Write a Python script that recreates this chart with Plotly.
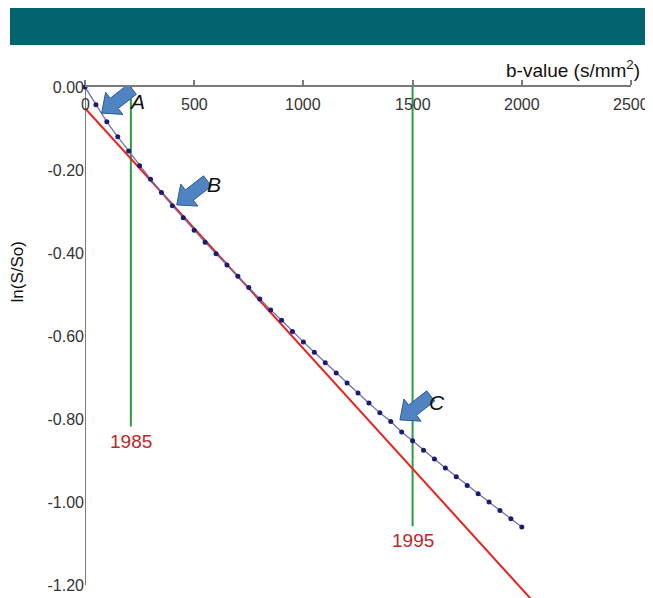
import math
import plotly.graph_objects as go

# ---- data ----
B_VALUES = [0, 50, 100, 150, 200, 250, 300, 350, 400, 450, 500, 550, 600, 650, 700,
            750, 800, 850, 900, 950, 1000, 1050, 1100, 1150, 1200, 1250, 1300, 1350,
            1400, 1450, 1500, 1550, 1600, 1650, 1700, 1750, 1800, 1850, 1900, 1950, 2000]
LN_SIGNAL = [0.000, -0.043, -0.084, -0.120, -0.154, -0.190, -0.222, -0.254, -0.286,
             -0.315, -0.345, -0.374, -0.402, -0.429, -0.456, -0.483, -0.511, -0.537,
             -0.562, -0.589, -0.614, -0.639, -0.664, -0.689, -0.713, -0.737, -0.761,
             -0.785, -0.806, -0.831, -0.852, -0.875, -0.896, -0.918, -0.939, -0.960,
             -0.980, -1.000, -1.020, -1.040, -1.060]
FIT_B = [0, 2100]
FIT_Y = [-0.051, -1.267]
YEAR_B = [210, 1500]
YEAR_END = [-0.818, -1.058]
YEAR_LABELS = ["1985", "1995"]
ARROW_LABELS = ["A", "B", "C"]
ARROW_TIP_B = [76, 420, 1442]
ARROW_TIP_Y = [-0.063, -0.284, -0.802]
LABEL_B = [238, 591, 1612]
LABEL_Y = [-0.036, -0.234, -0.761]
X_TICKS = [0, 500, 1000, 1500, 2000, 2500]
X_TICK_TEXT = ["0", "500", "1000", "1500", "2000", "2500"]
Y_TICKS = [0.0, -0.2, -0.4, -0.6, -0.8, -1.0, -1.2]
Y_TICK_TEXT = ["0.00", "-0.20", "-0.40", "-0.60", "-0.80", "-1.00", "-1.20"]

FONT = "Liberation Sans, Arial, sans-serif"
RED = "#e8231f"
GREEN = "#2f9a3e"
DARKRED = "#c0272d"
AXIS = "#7a7a7a"

fig = go.Figure()

# green year markers
for b, yend in zip(YEAR_B, YEAR_END):
    fig.add_trace(go.Scatter(x=[b, b], y=[0, yend], mode="lines",
                             line=dict(color=GREEN, width=2), hoverinfo="skip",
                             showlegend=False))

# red mono-exponential fit
fig.add_trace(go.Scatter(x=FIT_B, y=FIT_Y, mode="lines",
                         line=dict(color=RED, width=2), showlegend=False))

# measured signal
fig.add_trace(go.Scatter(x=B_VALUES, y=LN_SIGNAL, mode="lines+markers",
                         line=dict(color="#6e6eb8", width=1.3),
                         marker=dict(color="#1c1c6e", size=5),
                         cliponaxis=False, showlegend=False))

annotations = []
for b, yend, lab in zip(YEAR_B, YEAR_END, YEAR_LABELS):
    annotations.append(dict(x=b, y=yend, xref="x", yref="y", text=lab,
                            showarrow=False, yanchor="top", yshift=-2,
                            font=dict(family=FONT, size=19, color=DARKRED)))

for tv, tt in zip(X_TICKS, X_TICK_TEXT):
    annotations.append(dict(x=tv, y=1, xref="x", yref="paper", text=tt,
                            showarrow=False, yanchor="top", yshift=-7,
                            font=dict(family=FONT, size=16, color="#333")))

for lb, ly, lab in zip(LABEL_B, LABEL_Y, ARROW_LABELS):
    annotations.append(dict(x=lb, y=ly, xref="x", yref="y", text="<i>" + lab + "</i>",
                            showarrow=False,
                            font=dict(family=FONT, size=21, color="#111")))

# axis titles
annotations.append(dict(x=1.02, y=1.0, xref="paper", yref="paper", xanchor="right",
                        yanchor="bottom", yshift=4,
                        text="b-value (s/mm<sup>2</sup>)", showarrow=False,
                        font=dict(family=FONT, size=19, color="#111")))
annotations.append(dict(x=-0.1245, y=0.637, xref="paper", yref="paper",
                        xanchor="center", yanchor="middle",
                        text="ln(S/So)", textangle=-90, showarrow=False,
                        font=dict(family=FONT, size=17, color="#111")))


def block_arrow_path(dx, dy, length=39, head_len=16, head_w=28, shaft_w=13):
    """Block arrow with its tip at the origin (pixel offsets, y up)."""
    th = math.atan2(dy, dx)
    c, s = math.cos(th), math.sin(th)
    local = [(0, 0), (-head_len, head_w / 2), (-head_len, shaft_w / 2),
             (-length, shaft_w / 2), (-length, -shaft_w / 2),
             (-head_len, -shaft_w / 2), (-head_len, -head_w / 2)]
    pts = [(u * c - v * s, u * s + v * c) for u, v in local]
    return "M" + " L".join(f"{x:.2f},{y:.2f}" for x, y in pts) + " Z"


shapes = [
    # teal banner
    dict(type="rect", xref="paper", yref="paper", x0=-0.1374, x1=1.0256,
         y0=1.0822, y1=1.1546, fillcolor="#03636f", line=dict(width=0)),
    # y axis line from 0 to -1.2
    dict(type="line", xref="x", yref="y", x0=0, x1=0, y0=0, y1=-1.2,
         line=dict(color=AXIS, width=2), layer="below"),
]
arrow_path = block_arrow_path(-27, -21)
for tb, ty in zip(ARROW_TIP_B, ARROW_TIP_Y):
    shapes.append(dict(type="path", xref="x", yref="y", xsizemode="pixel",
                       ysizemode="pixel", xanchor=tb, yanchor=ty, path=arrow_path,
                       fillcolor="#4f83c2", line=dict(color="#2f5b8e", width=1)))

# the page adds an 8px body margin, so the figure is 8px smaller than the window
fig.update_layout(
    width=645, height=590,
    margin=dict(l=77, r=22, t=79, b=0),
    paper_bgcolor="white", plot_bgcolor="white",
    annotations=annotations, shapes=shapes,
    xaxis=dict(range=[0, 2500], side="top", tickvals=X_TICKS,
               showticklabels=False, automargin=False,
               ticks="outside", ticklen=5, tickcolor=AXIS, tickwidth=1.5,
               showline=True, linecolor=AXIS,
               linewidth=2, showgrid=False, zeroline=False),
    yaxis=dict(range=[-1.231, 0], tickvals=Y_TICKS, ticktext=Y_TICK_TEXT,
               automargin=False,
               showline=False, showgrid=False, zeroline=False, ticks="",
               tickfont=dict(family=FONT, size=16, color="#333")),
)

fig.write_html("out.html")
